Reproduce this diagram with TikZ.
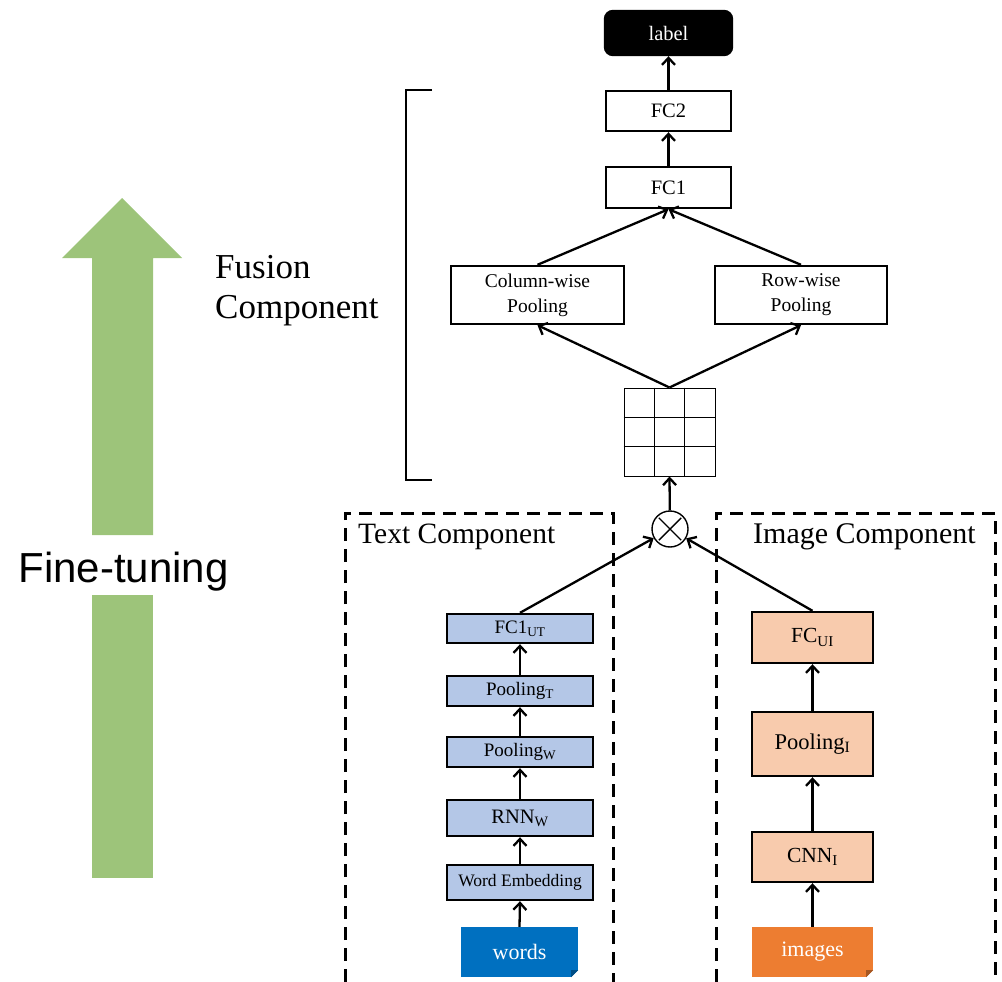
\documentclass[tikz,border=0pt]{standalone}
\usepackage{fontspec}
\setmainfont{Liberation Serif}
\newfontfamily\arialfont{Liberation Sans}
\usetikzlibrary{calc,arrows.meta}
\definecolor{TextBlue}{RGB}{180,199,231}
\definecolor{ImgPeach}{RGB}{248,203,173}
\definecolor{WordsBlue}{RGB}{0,112,192}
\definecolor{ImagesOrange}{RGB}{237,125,49}
\definecolor{TuneGreen}{RGB}{157,196,122}
\newcommand{\Px}{1pt}
\newcommand{\Fold}{7}
\newcommand{\Fsize}[1]{\fontsize{#1}{#1}\selectfont}
\tikzset{Layer/.style={
    inner sep=0pt,
    minimum width=125pt,
    minimum height=40pt,
    draw=black, line width=2.4pt,
    fill=white,
    align=center,
    font=\Fsize{20.5},
    },
  Input/.style={inner sep=0pt, text=white, font=\Fsize{22}},
  Flow/.style={line width=2.3pt, -{Straight Barb[length=7pt,width=13pt]}},
}

\begin{document}
\begin{tikzpicture}[x=\Px, y=-\Px,
    Blue/.style={Layer, fill=TextBlue, minimum width=146pt, font=\Fsize{19}},
    Peach/.style={Layer, fill=ImgPeach, minimum width=121pt, minimum height=50pt, font=\Fsize{21.5}},
    DashBox/.style={line width=3pt, dash pattern=on 13pt off 8pt},
]
\useasboundingbox (0,0) rectangle (1002,982);

% fine-tuning arrow
\fill[TuneGreen] (92,878) -- (92,595) -- (153,595) -- (153,878) -- cycle;
\fill[TuneGreen] (92,535) -- (92,258) -- (62,258) -- (122,198) -- (182,258) -- (153,258) -- (153,535) -- cycle;
\node[font=\arialfont\Fsize{42}, anchor=base] (tune) at (123.5,582) {Fine-tuning};

% fusion part
\node[anchor=north west, align=left, inner sep=0pt, font=\fontsize{35}{40}\selectfont] (fusion) at (215,255) {Fusion\\Component};
\draw[line width=2.2pt] (432,90) -- (406,90) -- (406,480) -- (432,480);

\node[Layer, fill=black, text=white, rounded corners=8pt, minimum width=127pt, minimum height=44pt] (label) at (668.5,33) {label};
\node[Layer] (fc2) at (668.5,111) {FC2};
\node[Layer, minimum height=41pt] (fc1) at (668.5,187.5) {FC1};
\node[Layer, minimum width=173pt, minimum height=58pt, font=\fontsize{19.5}{25}\selectfont] (colpool) at (537.5,295) {Column-wise\\Pooling};
\node[Layer, minimum width=172pt, minimum height=58pt, font=\fontsize{19.5}{25}\selectfont] (rowpool) at (801,295) {Row-wise\\Pooling};

\node[draw, line width=1pt, inner sep=0pt, minimum width=91pt, minimum height=88pt] (grid) at (669.5,432) {};
\foreach \i in {1,2} {
  \draw[line width=1pt] ($(grid.north west)!\i/3!(grid.north east)$) -- ($(grid.south west)!\i/3!(grid.south east)$);
  \draw[line width=1pt] ($(grid.north west)!\i/3!(grid.south west)$) -- ($(grid.north east)!\i/3!(grid.south east)$);
}

\node[circle, draw, line width=1.4pt, inner sep=0pt, minimum size=36pt] (mult) at (670,529) {};
\draw[line width=1.4pt] ($(mult)!0.85!(mult.north west)$) -- ($(mult)!0.85!(mult.south east)$)
  ($(mult)!0.85!(mult.north east)$) -- ($(mult)!0.85!(mult.south west)$);

% text component
\draw[DashBox] (345,982) -- (345,513) -- (613,513) -- (613,982);
\node[anchor=base west, inner sep=0pt, font=\Fsize{29.5}] (textcomp) at (358,543) {Text Component};
\node[Blue, minimum height=29pt] (fcut) at (520,628.5) {FC1\textsubscript{UT}};
\node[Blue, minimum height=30pt] (poolt) at (520,691) {Pooling\textsubscript{T}};
\node[Blue, minimum height=30pt] (poolw) at (520,752) {Pooling\textsubscript{W}};
\node[Blue, minimum height=36pt, font=\Fsize{20.5}] (rnnw) at (520,818) {RNN\textsubscript{W}};
\node[Blue, minimum height=35pt, font=\Fsize{17.5}] (embed) at (520,882.5) {Word Embedding};
\node[Input, fill=WordsBlue, minimum width=117pt, minimum height=50pt] (words) at (519.5,952) {words};

% image component
\draw[DashBox] (716,982) -- (716,513) -- (995,513) -- (995,982);
\node[anchor=base west, inner sep=0pt, font=\Fsize{30}] (imgcomp) at (753,543) {Image Component};
\node[Peach, minimum height=51pt] (fcui) at (812.5,637.5) {FC\textsubscript{UI}};
\node[Peach, minimum height=64pt, font=\Fsize{22.5}] (pooli) at (812.5,744) {Pooling\textsubscript{I}};
\node[Peach] (cnni) at (812.5,857) {CNN\textsubscript{I}};
\node[Input, fill=ImagesOrange, minimum width=121pt, minimum height=50pt] (images) at (812.5,952) {images};

\foreach \n/\c in {words/WordsBlue, images/ImagesOrange} {
  \fill[white] (\n.south east) -- ++(-\Fold,0) -- ++(\Fold,-\Fold) -- cycle;
  \fill[\c!70!black] ($(\n.south east)+(-\Fold,0)$) -- ++(\Fold,-\Fold) -- ++(-\Fold,0) -- cycle;
}

\foreach \a/\b in {words/embed, embed/rnnw, rnnw/poolw, poolw/poolt, poolt/fcut,
    images/cnni, cnni/pooli, pooli/fcui, fc1/fc2, fc2/label}
  \draw[Flow] (\a.north) -- (\b.south);
\draw[Flow] (fcut.north) -- (mult);
\draw[Flow] (fcui.north) -- (mult);
\draw[Flow] (mult) -- (grid.south);
\draw[Flow] (grid.north) -- (colpool.south);
\draw[Flow] (grid.north) -- (rowpool.south);
\draw[Flow] (colpool.north) -- (fc1.south);
\draw[Flow] (rowpool.north) -- (fc1.south);
\end{tikzpicture}
\end{document}
